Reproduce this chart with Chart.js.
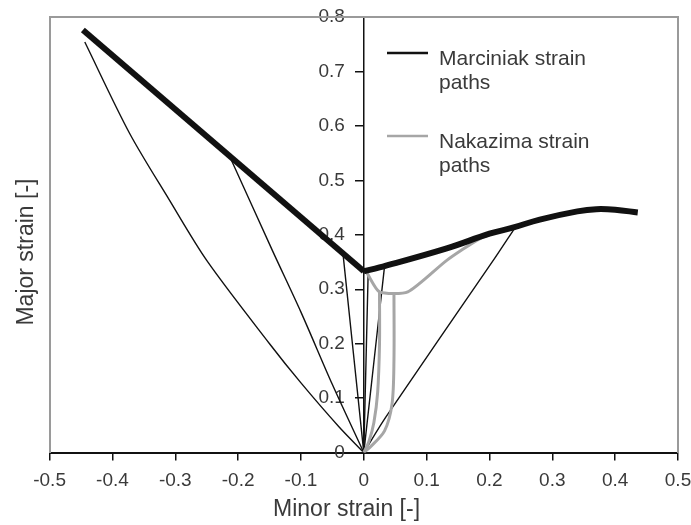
<!DOCTYPE html>
<html>
<head>
<meta charset="utf-8">
<script src="https://cdn.jsdelivr.net/npm/chart.js@4.4.0/dist/chart.umd.min.js"></script>
<style>
  html, body { margin: 0; padding: 0; background: #fff; }
</style>
</head>
<body>
<canvas id="chart" width="691" height="525"></canvas>
<script>
// [minor strain, major strain] pairs
const marciniakFlcLeft = [[-0.447, 0.776], [0, 0.333]]
const marciniakFlcRight = [
  [0, 0.333], [0.025, 0.34], [0.132, 0.375], [0.2, 0.402], [0.237, 0.413],
  [0.28, 0.428], [0.34, 0.443], [0.37, 0.447], [0.4, 0.446], [0.436, 0.441],
]
const marciniakPaths = [
  [[0, 0], [-0.04, 0.048], [-0.1, 0.128], [-0.15, 0.2], [-0.25, 0.353], [-0.31, 0.465], [-0.373, 0.587], [-0.444, 0.754]],
  [[0, 0], [-0.05, 0.125], [-0.1, 0.258], [-0.145, 0.37], [-0.213, 0.543]],
  [[0, 0], [-0.033, 0.364]],
  [[0, 0], [0.007, 0.333]],
  [[0, 0], [0.033, 0.342]],
  [[0, 0], [0.035, 0.065], [0.206, 0.353], [0.24, 0.412]],
]
const nakazimaLimit = [[0.005, 0.33], [0.025, 0.295], [0.07, 0.295], [0.132, 0.353], [0.185, 0.393], [0.23, 0.412]]
const nakazimaPaths = [
  [[0, 0], [0.008, 0.02], [0.016, 0.055], [0.022, 0.11], [0.025, 0.2], [0.025, 0.295]],
  [[0, 0], [0.01, 0.01], [0.033, 0.04], [0.045, 0.09], [0.048, 0.17], [0.048, 0.295]],
]
const legendLabels = [["Marciniak strain", "paths"], ["Nakazima strain", "paths"]]

const black = "#111"
const gray = "#a6a6a6"
const textColor = "#3a3a3a"
const fontFamily = "'Liberation Sans', Arial, sans-serif"

const toPoints = (pairs) => pairs.map(([x, y]) => ({ x, y }))

function line(pairs, color, width, tension) {
  return {
    data: toPoints(pairs),
    borderColor: color,
    borderWidth: width,
    tension: tension || 0,
    pointRadius: 0,
    showLine: true,
    fill: false,
  }
}

const datasets = [
  line(marciniakFlcLeft, black, 6),
  line(marciniakFlcRight, black, 6, 0.4),
  line(nakazimaLimit, gray, 3, 0.2),
  ...nakazimaPaths.map((p) => line(p, gray, 3, 0.3)),
  ...marciniakPaths.map((p) => line(p, black, 1.4, 0.3)),
]

const legendColors = [black, gray]

const inlineLegend = {
  id: "inlineLegend",
  afterDraw(chart) {
    const ctx = chart.ctx
    ctx.save()
    ctx.font = "21px " + fontFamily
    ctx.textBaseline = "alphabetic"
    ctx.textAlign = "left"
    legendLabels.forEach((lines, i) => {
      const top = 53 + i * 83
      ctx.strokeStyle = legendColors[i]
      ctx.lineWidth = 2.5
      ctx.beginPath()
      ctx.moveTo(387, top)
      ctx.lineTo(428, top)
      ctx.stroke()
      ctx.fillStyle = textColor
      lines.forEach((t, j) => ctx.fillText(t, 439, top + 12 + j * 24))
    })
    ctx.restore()
  },
}

const hiddenAxis = (position) => ({
  type: "linear",
  position: position,
  min: 0,
  max: 1,
  ticks: { display: false },
  grid: { display: false, drawTicks: false },
  border: { display: true, color: "#9a9a9a", width: 2 },
})

new Chart(document.getElementById("chart"), {
  type: "scatter",
  data: { datasets },
  plugins: [inlineLegend],
  options: {
    responsive: false,
    animation: false,
    layout: { autoPadding: false, padding: { left: 0, right: 13, top: 17, bottom: 0 } },
    plugins: { legend: { display: false }, tooltip: { enabled: false } },
    scales: {
      x: {
        type: "linear",
        position: "bottom",
        min: -0.5,
        max: 0.5,
        // the "0.5" label may hang over the frame, as in the original
        afterFit: (scale) => { scale.paddingRight = 0 },
        ticks: { stepSize: 0.1, padding: 9, color: textColor, font: { size: 19, family: fontFamily } },
        grid: { drawOnChartArea: false, drawTicks: true, tickLength: 8, color: black, lineWidth: 1.5 },
        border: { color: black, width: 2 },
        title: {
          display: true,
          text: "Minor strain [-]\u2003\u2002",
          color: textColor,
          font: { size: 23, family: fontFamily },
          padding: { top: -6, bottom: 2 },
        },
      },
      y: {
        type: "linear",
        position: { x: 0 },
        min: 0,
        max: 0.8,
        ticks: {
          stepSize: 0.1,
          color: textColor,
          font: { size: 19, family: fontFamily },
          // labels sit left of the centred axis; em space keeps them clear of the tick marks
          callback: (v) => Number(v.toFixed(1)) + "\u2003",
        },
        grid: { drawOnChartArea: false, drawTicks: true, tickLength: 8, color: black, lineWidth: 1.5 },
        border: { color: black, width: 1.5 },
      },
      yLeft: {
        ...hiddenAxis("left"),
        axis: "y",
        title: {
          display: true,
          // trailing spaces nudge the title a little below the plot centre, as in the original
          text: "Major strain [-]\u2003\u2002",
          color: textColor,
          font: { size: 23, family: fontFamily },
          padding: { top: 13, bottom: 9 },
        },
      },
      yRight: { ...hiddenAxis("right"), axis: "y" },
      xTop: { ...hiddenAxis("top"), axis: "x" },
    },
  },
})
</script>
</body>
</html>
